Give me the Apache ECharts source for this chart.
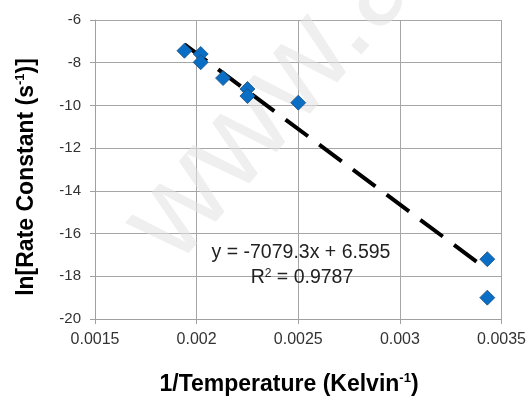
<!DOCTYPE html>
<html>
<head>
<meta charset="utf-8">
<script src="https://cdn.jsdelivr.net/npm/echarts@6/dist/echarts.min.js"></script>
<style>
html,body{margin:0;padding:0;background:#fff;}
#chart{width:529px;height:396px;}
</style>
</head>
<body>
<div id="chart"></div>
<script>
// Data
const invT = [0.00194, 0.00202, 0.00202, 0.00213, 0.00225, 0.00225, 0.00250, 0.00343, 0.00343];
const lnK  = [-7.44, -7.59, -7.98, -8.72, -9.23, -9.56, -9.87, -17.20, -19.00];
// Linear trendline as printed on the chart
const trendSlope = -7079.3;
const trendIntercept = 6.595;
const xTickLabels = ['0.0015', '0.002', '0.0025', '0.003', '0.0035'];
const yTickLabels = ['-20', '-18', '-16', '-14', '-12', '-10', '-8', '-6'];
const eqText = 'y = -7079.3x + 6.595';
const r2Text = '0.9787';

const xMin = Math.min(...invT), xMax = Math.max(...invT);
const trend = [[xMin, trendSlope * xMin + trendIntercept], [xMax, trendSlope * xMax + trendIntercept]];

const chart = echarts.init(document.getElementById('chart'), null, {renderer: 'canvas'});
const FONT = 'Liberation Sans, Arial, sans-serif';

function fmtTick(list, v) {
  for (const s of list) { if (Math.abs(parseFloat(s) - v) < 1e-9) return s; }
  return '';
}

chart.setOption({
  animation: false,
  backgroundColor: '#ffffff',
  grid: {left: 95, right: 27, top: 20, bottom: 77},
  xAxis: {
    type: 'value', min: 0.0015, max: 0.0035, interval: 0.0005,
    axisLine: {show: true, lineStyle: {color: '#a0a0a0', width: 1}},
    axisTick: {show: true, length: 5, lineStyle: {color: '#a0a0a0'}},
    splitLine: {show: true, lineStyle: {color: '#a6a6a6', width: 1}},
    axisLabel: {margin: 13, color: '#333', fontSize: 16, fontFamily: FONT,
      formatter: v => fmtTick(xTickLabels, v)}
  },
  yAxis: {
    type: 'value', min: -20, max: -6, interval: 2,
    axisLine: {show: true, onZero: false, lineStyle: {color: '#a0a0a0', width: 1}},
    axisTick: {show: true, length: 5, lineStyle: {color: '#a0a0a0'}},
    splitLine: {show: true, lineStyle: {color: '#a6a6a6', width: 1}},
    axisLabel: {margin: 14, color: '#333', fontSize: 15, fontFamily: FONT,
      formatter: v => fmtTick(yTickLabels, v)}
  },
  graphic: [
    {
      type: 'text', z: 1, x: 198, y: 286, rotation: 49 * Math.PI / 180,
      style: {text: 'www.a', font: '128px ' + FONT, fill: 'rgba(225,225,225,0.55)',
        align: 'left', verticalAlign: 'bottom'}
    },
    {
      type: 'text', z: 10, x: 301, y: 253,
      style: {text: eqText, font: '19.5px ' + FONT, fill: '#222', align: 'center', verticalAlign: 'middle'}
    },
    {
      type: 'text', z: 10, x: 302, y: 277,
      style: {text: '{m|R}{s|2}{m| = ' + r2Text + '}', align: 'center', verticalAlign: 'middle',
        rich: {
          m: {font: '19.5px ' + FONT, fill: '#222', lineHeight: 22, verticalAlign: 'bottom'},
          s: {font: '12px ' + FONT, fill: '#222', lineHeight: 22, verticalAlign: 'top', padding: [2, 0, 0, 0]}
        }}
    },
    {
      type: 'text', z: 10, x: 289, y: 383,
      style: {text: '{m|1/Temperature (Kelvin}{s|-1}{m|)}', align: 'center', verticalAlign: 'middle',
        rich: {
          m: {font: 'bold 23px ' + FONT, fill: '#000', lineHeight: 26, verticalAlign: 'bottom'},
          s: {font: 'bold 13px ' + FONT, fill: '#000', lineHeight: 26, verticalAlign: 'top', padding: [2, 0, 0, 0]}
        }}
    },
    {
      type: 'text', z: 10, x: 25, y: 177, rotation: Math.PI / 2,
      style: {text: '{m|ln[Rate Constant (s}{s|-1}{m|)]}', align: 'center', verticalAlign: 'middle',
        rich: {
          m: {font: 'bold 23px ' + FONT, fill: '#000', lineHeight: 26, verticalAlign: 'bottom'},
          s: {font: 'bold 13px ' + FONT, fill: '#000', lineHeight: 26, verticalAlign: 'top', padding: [2, 0, 0, 0]}
        }}
    }
  ],
  series: [
    {
      type: 'line', data: trend, symbol: 'none', z: 3,
      lineStyle: {color: '#000', width: 4, type: [28, 14], cap: 'butt'}
    },
    {
      type: 'scatter', data: invT.map((x, i) => [x, lnK[i]]), symbol: 'diamond', symbolSize: 15, z: 4,
      itemStyle: {color: '#0a6ec4', borderColor: '#1d4f80', borderWidth: 0.8, opacity: 1}
    }
  ]
});
</script>
</body>
</html>
